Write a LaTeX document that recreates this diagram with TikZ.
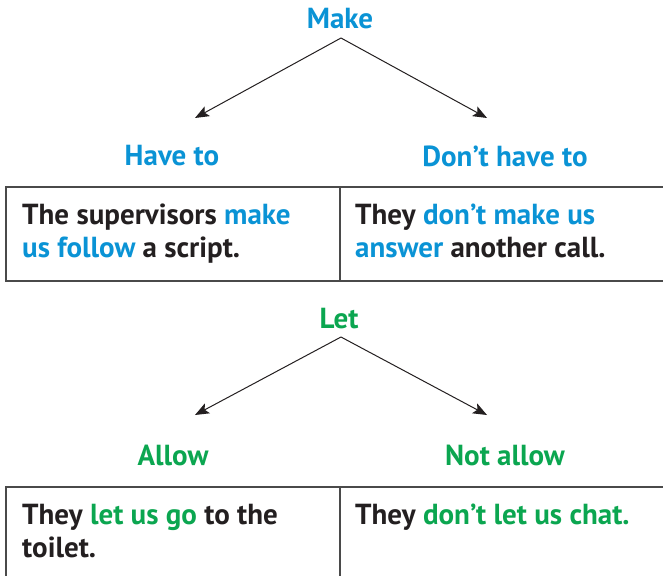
\documentclass[tikz,border=0pt]{standalone}
\usepackage{fontspec}
\setmainfont{PT Sans}
\usetikzlibrary{arrows.meta,positioning}

\definecolor{makeblue}{HTML}{0A93D5}
\definecolor{letgreen}{HTML}{0BA650}
\definecolor{ruleline}{HTML}{4A4A4A}
\definecolor{inkblack}{HTML}{231F20}

\tikzset{
  head/.style={font=\fontsize{29}{32}\selectfont\bfseries, inner sep=0pt},
  cell/.style={font=\fontsize{29}{32.5}\selectfont\bfseries, inner sep=0pt,
    anchor=north west, align=left, text=inkblack},
  branch/.style={-{Stealth[length=14pt,width=11pt,inset=3pt]}, line width=1pt, draw=inkblack},
  rule/.style={draw=ruleline, line width=1.5pt}
}
\newcommand{\mk}[1]{\textcolor{makeblue}{#1}}
\newcommand{\lt}[1]{\textcolor{letgreen}{#1}}

\begin{document}
\begin{tikzpicture}[x=1pt,y=-1pt]
\useasboundingbox (0,0) rectangle (663,575);

% make tree
\node[head, text=makeblue] (make) at (340,19) {Make};
\coordinate (make-fork) at (341,38);
\coordinate (make-l) at (195,118);
\coordinate (make-r) at (487,118);
\draw[branch] (make-fork) -- (make-l);
\draw[branch] (make-fork) -- (make-r);
\node[head, text=makeblue] (haveto) at (172,156) {Have to};
\node[head, text=makeblue] (donthave) at (505,156) {Don’t have to};

% make box
\draw[rule] (6,187) rectangle (680,281);
\draw[rule] (340,187) -- (340,281);
\node[cell] (make-a) at (22,204) {The supervisors \mk{make}\\\mk{us follow} a script.};
\node[cell] (make-b) at (355,204) {They \mk{don’t make us}\\\mk{answer} another call.};

% let tree
\node[head, text=letgreen] (let) at (339,319) {Let};
\coordinate (let-fork) at (341,337);
\coordinate (let-l) at (195,415);
\coordinate (let-r) at (487,415);
\draw[branch] (let-fork) -- (let-l);
\draw[branch] (let-fork) -- (let-r);
\node[head, text=letgreen] (allow) at (173,455) {Allow};
\node[head, text=letgreen] (notallow) at (505,455) {Not allow};

% let box
\draw[rule] (6,600) -- (6,487) -- (680,487);
\draw[rule] (340,487) -- (340,600);
\node[cell] (let-a) at (22,504) {They \lt{let us go} to the\\toilet.};
\node[cell] (let-b) at (355,504) {They \lt{don’t let us chat.}};

\end{tikzpicture}
\end{document}
